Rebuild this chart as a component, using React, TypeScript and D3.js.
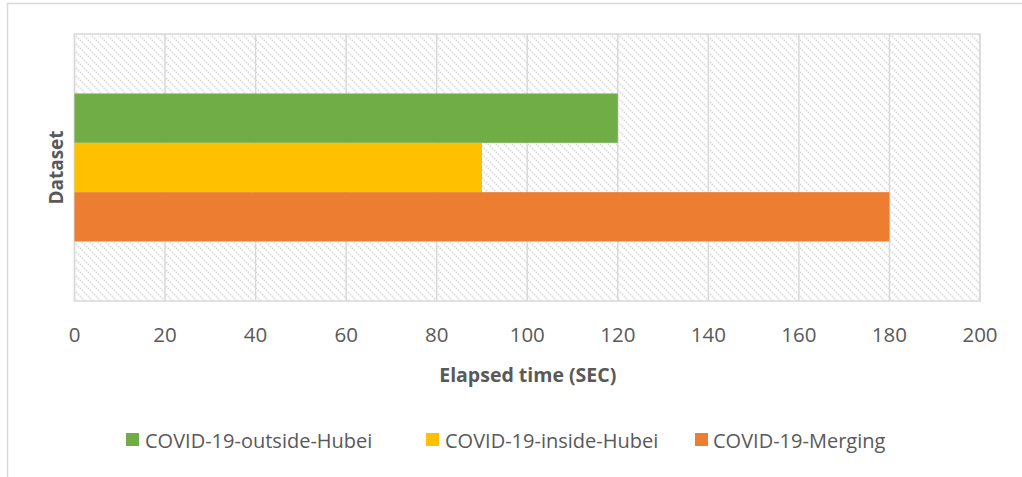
import React from "react";
import * as d3 from "d3";

const categories = ["Dataset"];
const seriesNames = ["COVID-19-outside-Hubei", "COVID-19-inside-Hubei", "COVID-19-Merging"];
const seriesValues = [120, 90, 180];
const seriesColors = ["#70ad47", "#ffc000", "#ed7d31"];
const xTicks = [0, 20, 40, 60, 80, 100, 120, 140, 160, 180, 200];

const W = 1022;
const H = 477;
const plot = { left: 74.5, right: 980, top: 34, bottom: 301 };

export default function App() {
  const x = d3.scaleLinear().domain([0, 200]).range([plot.left, plot.right]);
  const yCat = d3
    .scaleBand<string>()
    .domain(categories)
    .range([plot.top, plot.bottom])
    .paddingInner(0)
    .paddingOuter(0.402);
  const ySeries = d3
    .scaleBand<string>()
    .domain(seriesNames)
    .range([0, yCat.bandwidth()])
    .padding(0);

  const font = "'Open Sans', sans-serif";
  const textColor = "#595959";
  const grid = "#d9d9d9";

  const legendItems = [
    { sx: 126, tx: 145 },
    { sx: 426, tx: 445 },
    { sx: 695, tx: 713 },
  ];

  return (
    <svg
      width={W}
      height={H}
      style={{ position: "absolute", left: 0, top: 0, background: "#fff" }}
    >
      <defs>
        <pattern id="hatch" patternUnits="userSpaceOnUse" width={8} height={8}>
          <rect width={8} height={8} fill="#ffffff" />
          <path
            d="M-2,-2 L10,10 M-2,6 L2,10 M6,-2 L10,2"
            stroke="#dcdcdc"
            strokeWidth={2}
            strokeDasharray="1.5,1.3"
          />
        </pattern>
      </defs>
      <rect x={0} y={0} width={W} height={H} fill="#ffffff" />
      {/* outer chart border */}
      <rect x={7.5} y={3.5} width={W + 20} height={H + 20} fill="none" stroke={grid} strokeWidth={1.5} />

      {/* plot area */}
      <rect
        x={plot.left}
        y={plot.top}
        width={plot.right - plot.left}
        height={plot.bottom - plot.top}
        fill="url(#hatch)"
      />
      {xTicks.map((t) => (
        <line
          key={"g" + t}
          x1={x(t)}
          x2={x(t)}
          y1={plot.top}
          y2={plot.bottom}
          stroke={grid}
          strokeWidth={1.5}
        />
      ))}
      <rect
        x={plot.left}
        y={plot.top}
        width={plot.right - plot.left}
        height={plot.bottom - plot.top}
        fill="none"
        stroke={grid}
        strokeWidth={1.5}
      />

      {/* bars */}
      {seriesNames.map((s, i) => {
        const y0 = (yCat(categories[0]) ?? 0) + (ySeries(s) ?? 0);
        return (
          <rect
            key={s}
            x={x(0)}
            y={y0}
            width={x(seriesValues[i]) - x(0)}
            height={ySeries.bandwidth()}
            fill={seriesColors[i]}
          />
        );
      })}

      {/* tick labels */}
      {xTicks.map((t) => (
        <text
          key={"t" + t}
          x={x(t)}
          y={342}
          textAnchor="middle"
          fontFamily={font}
          fontSize={20.5}
          fill={textColor}
        >
          {t}
        </text>
      ))}

      {/* axis titles */}
      <text
        x={(plot.left + plot.right) / 2 + 0.5}
        y={382}
        textAnchor="middle"
        fontFamily={font}
        fontSize={19.5}
        fontWeight="bold"
        fill={textColor}
      >
        Elapsed time (SEC)
      </text>
      <text
        transform={`translate(63,${(plot.top + plot.bottom) / 2}) rotate(-90)`}
        textAnchor="middle"
        fontFamily={font}
        fontSize={19}
        fontWeight="bold"
        fill={textColor}
      >
        {categories[0]}
      </text>

      {/* legend */}
      {seriesNames.map((s, i) => (
        <g key={"l" + s}>
          <rect x={legendItems[i].sx} y={433} width={13} height={13} fill={seriesColors[i]} />
          <text x={legendItems[i].tx} y={447.5} fontFamily={font} fontSize={20} fill={textColor}>
            {s}
          </text>
        </g>
      ))}
    </svg>
  );
}
